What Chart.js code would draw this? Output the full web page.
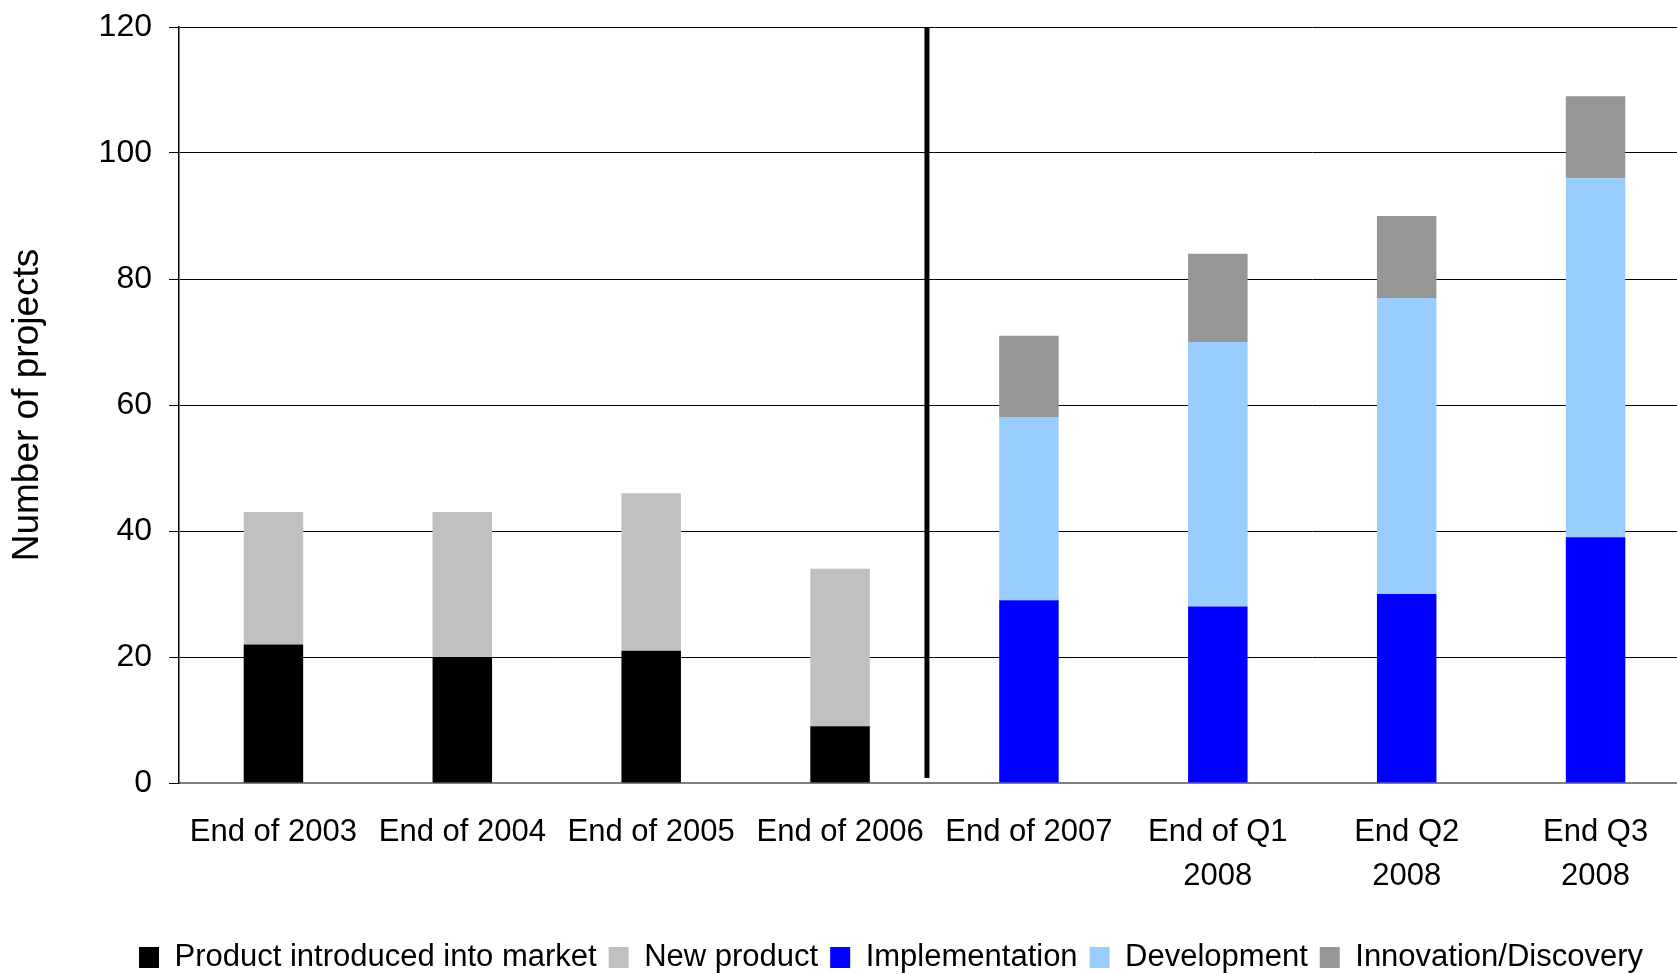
<!DOCTYPE html>
<html>
<head>
<meta charset="utf-8">
<title>Number of projects</title>
<script src="https://cdn.jsdelivr.net/npm/chart.js@4/dist/chart.umd.min.js"></script>
<style>
    html, body { margin: 0; padding: 0; background: #fff; overflow: hidden; }
    #wrap { position: absolute; left: 0; top: 0; width: 1690px; height: 983px; }
</style>
</head>
<body>
<div id="wrap"><canvas id="ChartProjects"></canvas></div>
<script>
const categories = [
    'End of 2003', 'End of 2004', 'End of 2005', 'End of 2006', 'End of 2007',
    ['End of Q1', '2008'], ['End Q2', '2008'], ['End Q3', '2008']
];
const introduced     = [22, 20, 21, 9, null, null, null, null];
const newProduct     = [21, 23, 25, 25, null, null, null, null];
const implementation = [null, null, null, null, 29, 28, 30, 39];
const development    = [null, null, null, null, 29, 42, 47, 57];
const innovation     = [null, null, null, null, 13, 14, 13, 13];
const yTicks = [0, 20, 40, 60, 80, 100, 120];

// where the thick divider sits, in category units
const SEPARATOR_AT = 3.46;
const LEGEND_SHIFT = 46;

const separatorPlugin = {
    id: 'separator',
    afterDatasetsDraw(chart) {
        const {ctx, scales: {x, y}} = chart;
        const px = x.getPixelForValue(SEPARATOR_AT);
        ctx.save();
        ctx.strokeStyle = '#000';
        ctx.lineWidth = 5;
        ctx.beginPath();
        ctx.moveTo(px, y.getPixelForValue(yTicks[yTicks.length - 1]));
        ctx.lineTo(px, y.getPixelForValue(0.8));
        ctx.stroke();
        ctx.restore();
    }
};

const legendShiftPlugin = {
    id: 'legendShift',
    afterLayout(chart) {
        chart.legend.left += LEGEND_SHIFT;
        chart.legend.right += LEGEND_SHIFT;
    }
};

Chart.defaults.font.family = '"Liberation Sans", Arial, sans-serif';
Chart.defaults.font.size = 31;
Chart.defaults.color = '#000';

document.addEventListener("DOMContentLoaded", function () {
    const bar = (label, data, color) => ({
        label: label,
        data: data,
        backgroundColor: color,
        borderWidth: 0,
        barPercentage: 0.315,
        categoryPercentage: 1
    });

    new Chart(document.getElementById('ChartProjects'), {
        type: 'bar',
        data: {
            labels: categories,
            datasets: [
                bar('Product introduced into market', introduced, '#000000'),
                bar('New product', newProduct, '#c0c0c0'),
                bar('Implementation', implementation, '#0000ff'),
                bar('Development', development, '#99ccff'),
                bar('Innovation/Discovery', innovation, '#969696')
            ]
        },
        options: {
            responsive: true,
            maintainAspectRatio: false,
            animation: false,
            layout: { padding: { top: 27, left: 0, right: 0, bottom: 0 } },
            scales: {
                x: {
                    stacked: true,
                    grid: { display: false, drawTicks: false },
                    border: { display: true, color: '#808080', width: 2 },
                    ticks: { padding: 27, maxRotation: 0, autoSkip: false, font: { size: 31, lineHeight: 1.42 } },
                    afterFit: scale => { scale.height = 147; }
                },
                y: {
                    stacked: true,
                    min: 0,
                    max: 120,
                    afterBuildTicks: scale => { scale.ticks = yTicks.map(v => ({value: v})); },
                    grid: {
                        color: ctx => ctx.tick && ctx.tick.value === 0 ? 'rgba(0,0,0,0)' : '#000',
                        lineWidth: 1,
                        tickColor: '#000',
                        tickLength: 10
                    },
                    border: { display: true, color: '#000', width: 1.5 },
                    ticks: { padding: 17, font: { size: 32 } },
                    title: {
                        display: true,
                        text: 'Number of projects',
                        font: { size: 37 },
                        padding: { top: 6, bottom: 0 }
                    },
                    afterFit: scale => {
                        scale.width = 179;
                        scale.paddingTop = 0;
                        scale.paddingBottom = 0;
                    }
                }
            },
            plugins: {
                legend: {
                    position: 'bottom',
                    labels: {
                        boxWidth: 20,
                        boxHeight: 21,
                        padding: 12,
                        font: { size: 31 }
                    }
                },
                tooltip: { enabled: false },
                title: { display: false }
            }
        },
        plugins: [separatorPlugin, legendShiftPlugin]
    });
});
</script>
</body>
</html>
